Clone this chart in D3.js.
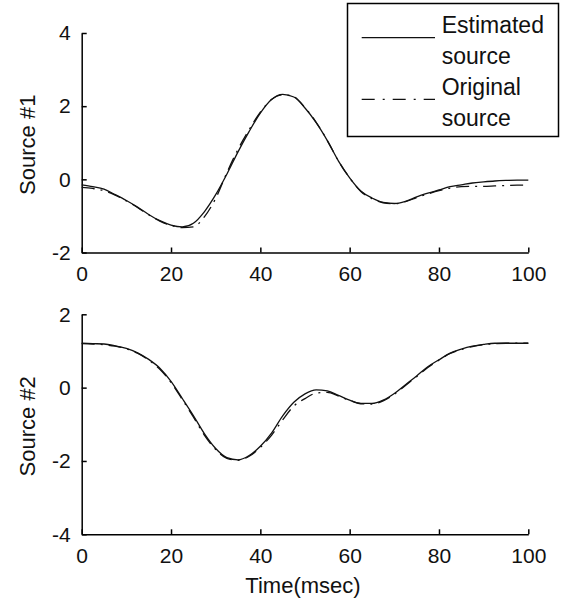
<!DOCTYPE html>
<html>
<head>
<meta charset="utf-8">
<script src="https://cdn.jsdelivr.net/npm/d3@7"></script>
<style>
  body { margin: 0; background: #fff; }
  svg { display: block; font-family: "Liberation Sans", Arial, sans-serif; }
  .axis path, .axis line { stroke: #000; stroke-width: 1.5px; }
  .axis text { font-size: 21px; fill: #111; }
</style>
</head>
<body>
<svg id="chart" width="561" height="603"></svg>
<script>
// time axis (msec)
var time = [0, 2.5, 5, 7.5, 10, 12.5, 15, 17.5, 20, 22.5, 25, 27.5, 30, 32.5, 35, 37.5, 40,
  42.5, 45, 47.5, 50, 52.5, 55, 57.5, 60, 62.5, 65, 67.5, 70, 72.5, 75, 77.5, 80, 82.5, 85,
  87.5, 90, 92.5, 95, 97.5, 100];

// source #1
var src1Estimated = [-0.15, -0.2, -0.27, -0.42, -0.58, -0.76, -0.96, -1.13, -1.25, -1.3, -1.2,
  -0.88, -0.42, 0.14, 0.75, 1.31, 1.81, 2.18, 2.32, 2.25, 1.95, 1.55, 1.06, 0.5, 0.04, -0.32,
  -0.51, -0.63, -0.66, -0.6, -0.48, -0.38, -0.29, -0.2, -0.15, -0.1, -0.07, -0.045, -0.03,
  -0.02, -0.02];
var src1Original = [-0.22, -0.25, -0.31, -0.43, -0.59, -0.77, -0.97, -1.14, -1.26, -1.32, -1.3,
  -1.02, -0.52, 0.18, 0.82, 1.36, 1.84, 2.18, 2.31, 2.26, 1.96, 1.56, 1.06, 0.5, 0.04, -0.33,
  -0.53, -0.64, -0.67, -0.61, -0.5, -0.4, -0.31, -0.24, -0.2, -0.19, -0.19, -0.18, -0.17,
  -0.16, -0.16];

// source #2
var src2Estimated = [1.21, 1.2, 1.19, 1.14, 1.07, 0.95, 0.77, 0.53, 0.17, -0.29, -0.76, -1.26,
  -1.66, -1.91, -1.97, -1.85, -1.6, -1.24, -0.77, -0.4, -0.17, -0.06, -0.09, -0.21, -0.34,
  -0.43, -0.43, -0.34, -0.16, 0.08, 0.32, 0.57, 0.76, 0.94, 1.05, 1.13, 1.18, 1.21, 1.21,
  1.21, 1.21];
var src2Original = [1.2, 1.19, 1.17, 1.13, 1.06, 0.94, 0.75, 0.5, 0.14, -0.32, -0.8, -1.3,
  -1.69, -1.93, -1.98, -1.87, -1.63, -1.3, -0.88, -0.5, -0.3, -0.15, -0.13, -0.23, -0.35,
  -0.44, -0.45, -0.36, -0.18, 0.06, 0.3, 0.55, 0.75, 0.93, 1.04, 1.12, 1.17, 1.2, 1.21,
  1.21, 1.21];

var xTicks = [0, 20, 40, 60, 80, 100];
var y1Ticks = [-2, 0, 2, 4];
var y2Ticks = [-4, -2, 0, 2];
var legendLabels = [["Estimated", "source"], ["Original", "source"]];

var svg = d3.select("#chart");
var x = d3.scaleLinear().domain([0, 100]).range([81.7, 528.3]);
var plain = function(d) { return String(d); };

var panels = [
  { yDomain: [-2, 4], range: [252.5, 33], ticks: y1Ticks, label: "Source #1",
    est: src1Estimated, orig: src1Original },
  { yDomain: [-4, 2], range: [534.3, 314.3], ticks: y2Ticks, label: "Source #2",
    est: src2Estimated, orig: src2Original }
];

panels.forEach(function(p) {
  var y = d3.scaleLinear().domain(p.yDomain).range(p.range);
  var g = svg.append("g");

  g.append("g").attr("class", "axis")
    .attr("transform", "translate(0," + p.range[0] + ")")
    .call(d3.axisBottom(x).tickValues(xTicks).tickFormat(plain)
      .tickSizeInner(-5).tickSizeOuter(0).tickPadding(14))
    .selectAll("text").attr("dy", "0.71em");

  g.append("g").attr("class", "axis")
    .attr("transform", "translate(" + x(0) + ",0)")
    .call(d3.axisLeft(y).tickValues(p.ticks).tickFormat(plain)
      .tickSizeInner(-5).tickSizeOuter(0).tickPadding(11));

  var line = d3.line()
    .x(function(d, i) { return x(time[i]); })
    .y(function(d) { return y(d); })
    .curve(d3.curveMonotoneX);

  g.append("path").datum(p.orig)
    .attr("d", line)
    .attr("fill", "none")
    .attr("stroke", "#111")
    .attr("stroke-width", 1.3)
    .attr("stroke-dasharray", "13,6,2,6");

  g.append("path").datum(p.est)
    .attr("d", line)
    .attr("fill", "none")
    .attr("stroke", "#111")
    .attr("stroke-width", 1.3);

  g.append("text")
    .attr("transform", "translate(27," + ((p.range[0] + p.range[1]) / 2 + 2) + ") rotate(-90)")
    .attr("text-anchor", "middle")
    .attr("dy", "0.35em")
    .style("font-size", "22px")
    .style("fill", "#111")
    .text(p.label);
});

svg.append("text")
  .attr("x", 303)
  .attr("y", 585)
  .attr("dy", "0.35em")
  .attr("text-anchor", "middle")
  .style("font-size", "22px")
  .style("fill", "#111")
  .text("Time(msec)");

// legend
var legend = svg.append("g");
legend.append("rect")
  .attr("x", 347.5).attr("y", 3.5)
  .attr("width", 211).attr("height", 133)
  .attr("fill", "#fff")
  .attr("stroke", "#000")
  .attr("stroke-width", 1.5);

var legendY = [37.7, 99.3];
legendLabels.forEach(function(lbl, i) {
  legend.append("line")
    .attr("x1", 361.7).attr("x2", 435)
    .attr("y1", legendY[i]).attr("y2", legendY[i])
    .attr("stroke", "#111")
    .attr("stroke-width", 1.3)
    .attr("stroke-dasharray", i === 1 ? "13,8,2,8" : null);
  lbl.forEach(function(t, j) {
    legend.append("text")
      .attr("x", 441.7)
      .attr("y", (i === 0 ? 33.3 : 95) + j * 30.5)
      .style("font-size", "23px")
      .style("fill", "#111")
      .text(t);
  });
});
</script>
</body>
</html>
